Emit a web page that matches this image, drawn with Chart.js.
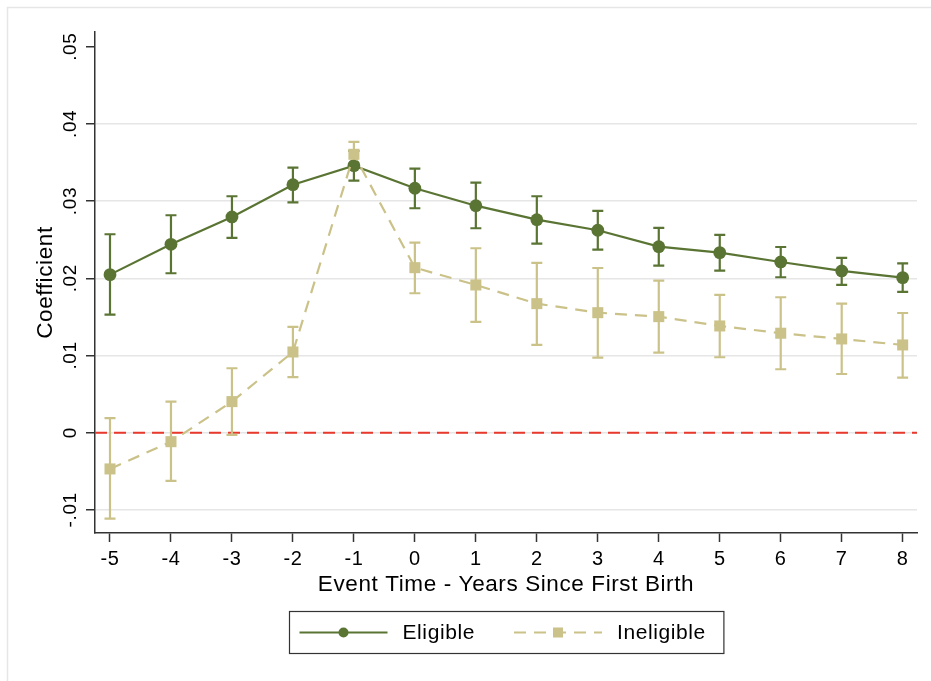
<!DOCTYPE html>
<html>
<head>
<meta charset="utf-8">
<script src="https://cdn.jsdelivr.net/npm/chart.js@4.4.1/dist/chart.umd.min.js"></script>
<style>
  html, body { margin: 0; padding: 0; background: #fff; }
  #wrap { width: 931px; height: 681px; position: relative; }
</style>
</head>
<body>
<div id="wrap"><canvas id="chart"></canvas></div>
<script>
// Event-study coefficients
const eventTime = [-5, -4, -3, -2, -1, 0, 1, 2, 3, 4, 5, 6, 7, 8];

const eligibleCoef = [0.02047, 0.0244, 0.02794, 0.03212, 0.03459, 0.03166, 0.0294, 0.02759, 0.02622, 0.02409, 0.02332, 0.02211, 0.02095, 0.02008];
const eligibleHi   = [0.0257, 0.02816, 0.03062, 0.03433, 0.0365, 0.0342, 0.03238, 0.03062, 0.02872, 0.02652, 0.02561, 0.02405, 0.02263, 0.02194];
const eligibleLo   = [0.01528, 0.02065, 0.02522, 0.02984, 0.03264, 0.02907, 0.02648, 0.02448, 0.0237, 0.02163, 0.02098, 0.02013, 0.01913, 0.01823];

const ineligibleCoef = [-0.0047, -0.00117, 0.00402, 0.01045, 0.03606, 0.02137, 0.01913, 0.01671, 0.01554, 0.01503, 0.01382, 0.01288, 0.01214, 0.01136];
const ineligibleHi   = [0.00187, 0.00402, 0.00834, 0.01369, 0.03766, 0.02461, 0.02389, 0.02198, 0.02133, 0.01969, 0.01784, 0.01754, 0.01671, 0.0155];
const ineligibleLo   = [-0.01114, -0.00626, -0.0003, 0.00718, 0.03446, 0.01806, 0.01434, 0.01136, 0.00972, 0.01036, 0.00977, 0.00821, 0.0076, 0.00712];

const yTicks = [-0.01, 0, 0.01, 0.02, 0.03, 0.04, 0.05];
const yTickLabels = ["-.01", "0", ".01", ".02", ".03", ".04", ".05"];

const GREEN = "#5a7433";
const KHAKI = "#cbc289";
const FONT = "'Liberation Sans', Arial, Helvetica, sans-serif";

Chart.defaults.font.family = FONT;
Chart.defaults.color = "#000";

const pts = (ys) => ys.map((y, i) => ({ x: eventTime[i], y }));

const series = [
    { label: "Eligible", color: GREEN, lo: eligibleLo, hi: eligibleHi, shape: "circle", dash: [] },
    { label: "Ineligible", color: KHAKI, lo: ineligibleLo, hi: ineligibleHi, shape: "rect", dash: [12, 8] },
];

// frame, zero line, error bars, rotated y labels, legend box
const extras = {
    id: "extras",
    beforeDraw(chart) {
        const { ctx } = chart;
        // Stata's text runs a bit wider than Liberation Sans
        ctx.letterSpacing = "0.6px";
        ctx.save();
        ctx.strokeStyle = "#e6e6e6";
        ctx.lineWidth = 1.5;
        ctx.strokeRect(7.5, 7.5, 1000, 1000);
        ctx.restore();
    },
    beforeDatasetsDraw(chart) {
        const { ctx, chartArea, scales: { x, y } } = chart;
        ctx.save();
        // zero reference line
        ctx.strokeStyle = "#e8392c";
        ctx.lineWidth = 2;
        ctx.setLineDash([12, 7]);
        const y0 = y.getPixelForValue(0);
        ctx.beginPath();
        ctx.moveTo(chartArea.left, y0);
        ctx.lineTo(chartArea.right, y0);
        ctx.stroke();
        ctx.setLineDash([]);

        // confidence intervals
        series.forEach((s) => {
            ctx.strokeStyle = s.color;
            ctx.lineWidth = 2.2;
            eventTime.forEach((t, i) => {
                const px = x.getPixelForValue(t);
                const top = y.getPixelForValue(s.hi[i]);
                const bot = y.getPixelForValue(s.lo[i]);
                ctx.beginPath();
                ctx.moveTo(px, top); ctx.lineTo(px, bot);
                ctx.moveTo(px - 5.5, top); ctx.lineTo(px + 5.5, top);
                ctx.moveTo(px - 5.5, bot); ctx.lineTo(px + 5.5, bot);
                ctx.stroke();
            });
        });
        ctx.restore();
    },
    afterDraw(chart) {
        const { ctx, chartArea, scales: { y } } = chart;
        ctx.save();
        // y tick labels, turned like Stata does
        ctx.font = "19px " + FONT;
        ctx.fillStyle = "#000";
        ctx.textAlign = "center";
        ctx.textBaseline = "middle";
        yTicks.forEach((v, i) => {
            ctx.save();
            ctx.translate(chartArea.left - 24, y.getPixelForValue(v));
            ctx.rotate(-Math.PI / 2);
            ctx.fillText(yTickLabels[i], 0, 0);
            ctx.restore();
        });

        // legend
        ctx.font = "21px " + FONT;
        const cx = (chartArea.left + chartArea.right) / 2;
        const sampleW = 88, textGap = 15, itemGap = 39, padL = 10, padR = 18;
        const widths = series.map((s) => ctx.measureText(s.label).width);
        const boxW = padL + padR + series.length * (sampleW + textGap) + widths.reduce((a, b) => a + b, 0) + itemGap * (series.length - 1);
        const boxTop = chartArea.bottom + 78, boxH = 42;
        const boxLeft = Math.round(cx - boxW / 2) + 0.5;
        ctx.strokeStyle = "#333";
        ctx.lineWidth = 1.2;
        ctx.strokeRect(boxLeft, boxTop + 0.5, boxW, boxH);
        const my = boxTop + boxH / 2 + 0.5;
        let lx = boxLeft + padL;
        series.forEach((s, i) => {
            ctx.strokeStyle = s.color;
            ctx.fillStyle = s.color;
            ctx.lineWidth = 2;
            ctx.setLineDash(s.dash);
            ctx.beginPath();
            ctx.moveTo(lx, my); ctx.lineTo(lx + sampleW, my);
            ctx.stroke();
            ctx.setLineDash([]);
            const mx = lx + sampleW / 2;
            if (s.shape === "circle") {
                ctx.beginPath();
                ctx.arc(mx, my, 5, 0, Math.PI * 2);
                ctx.fill();
            } else {
                ctx.fillRect(mx - 5, my - 5, 10, 10);
            }
            ctx.fillStyle = "#000";
            ctx.textAlign = "left";
            ctx.fillText(s.label, lx + sampleW + textGap, my + 1);
            lx += sampleW + textGap + widths[i] + itemGap;
        });
        ctx.restore();
    },
};

new Chart(document.getElementById("chart"), {
    type: "line",
    data: {
        datasets: [
            {
                label: "Eligible",
                data: pts(eligibleCoef),
                borderColor: GREEN,
                backgroundColor: GREEN,
                borderWidth: 2.2,
                pointStyle: "circle",
                pointRadius: 6.4,
                pointBorderWidth: 0,
                tension: 0,
                order: 1,
            },
            {
                label: "Ineligible",
                data: pts(ineligibleCoef),
                borderColor: KHAKI,
                backgroundColor: KHAKI,
                borderWidth: 2.2,
                borderDash: [12, 8],
                pointStyle: "rect",
                pointRadius: 7.8,
                pointBorderWidth: 0,
                tension: 0,
                order: 0,
            },
        ],
    },
    options: {
        responsive: true,
        maintainAspectRatio: false,
        animation: false,
        layout: { padding: { left: 0, right: 14, top: 32, bottom: 81 } },
        plugins: {
            legend: { display: false },
            tooltip: { enabled: false },
        },
        scales: {
            x: {
                type: "linear",
                min: -5.246,
                max: 8.235,
                afterBuildTicks: (s) => { s.ticks = eventTime.map((v) => ({ value: v })); },
                afterFit: (s) => { s.height = 67; },
                ticks: {
                    font: { size: 20 },
                    padding: 5,
                    maxRotation: 0,
                    callback: (v) => String(v),
                },
                grid: { drawOnChartArea: false, tickColor: "#333", tickLength: 9, tickWidth: 1.5 },
                border: { color: "#333", width: 1.5 },
                title: {
                    display: true,
                    text: "Event Time - Years Since First Birth",
                    font: { size: 22.5 },
                    padding: { top: 0, bottom: 2 },
                },
            },
            y: {
                min: -0.013,
                max: 0.0519,
                afterBuildTicks: (s) => { s.ticks = yTicks.map((v) => ({ value: v })); },
                afterFit: (s) => { s.width = 95; },
                ticks: { display: false },
                grid: {
                    color: (c) => (c.tick && c.tick.value === 0.05 ? "rgba(0,0,0,0)" : "#e6e6e6"),
                    lineWidth: 1.5,
                    tickColor: "#333",
                    tickLength: 9,
                    tickWidth: 1.5,
                },
                border: { color: "#333", width: 1.5 },
                title: {
                    display: true,
                    text: "Coefficient",
                    font: { size: 22.5 },
                    padding: { top: 32 },
                },
            },
        },
    },
    plugins: [extras],
});
</script>
</body>
</html>
